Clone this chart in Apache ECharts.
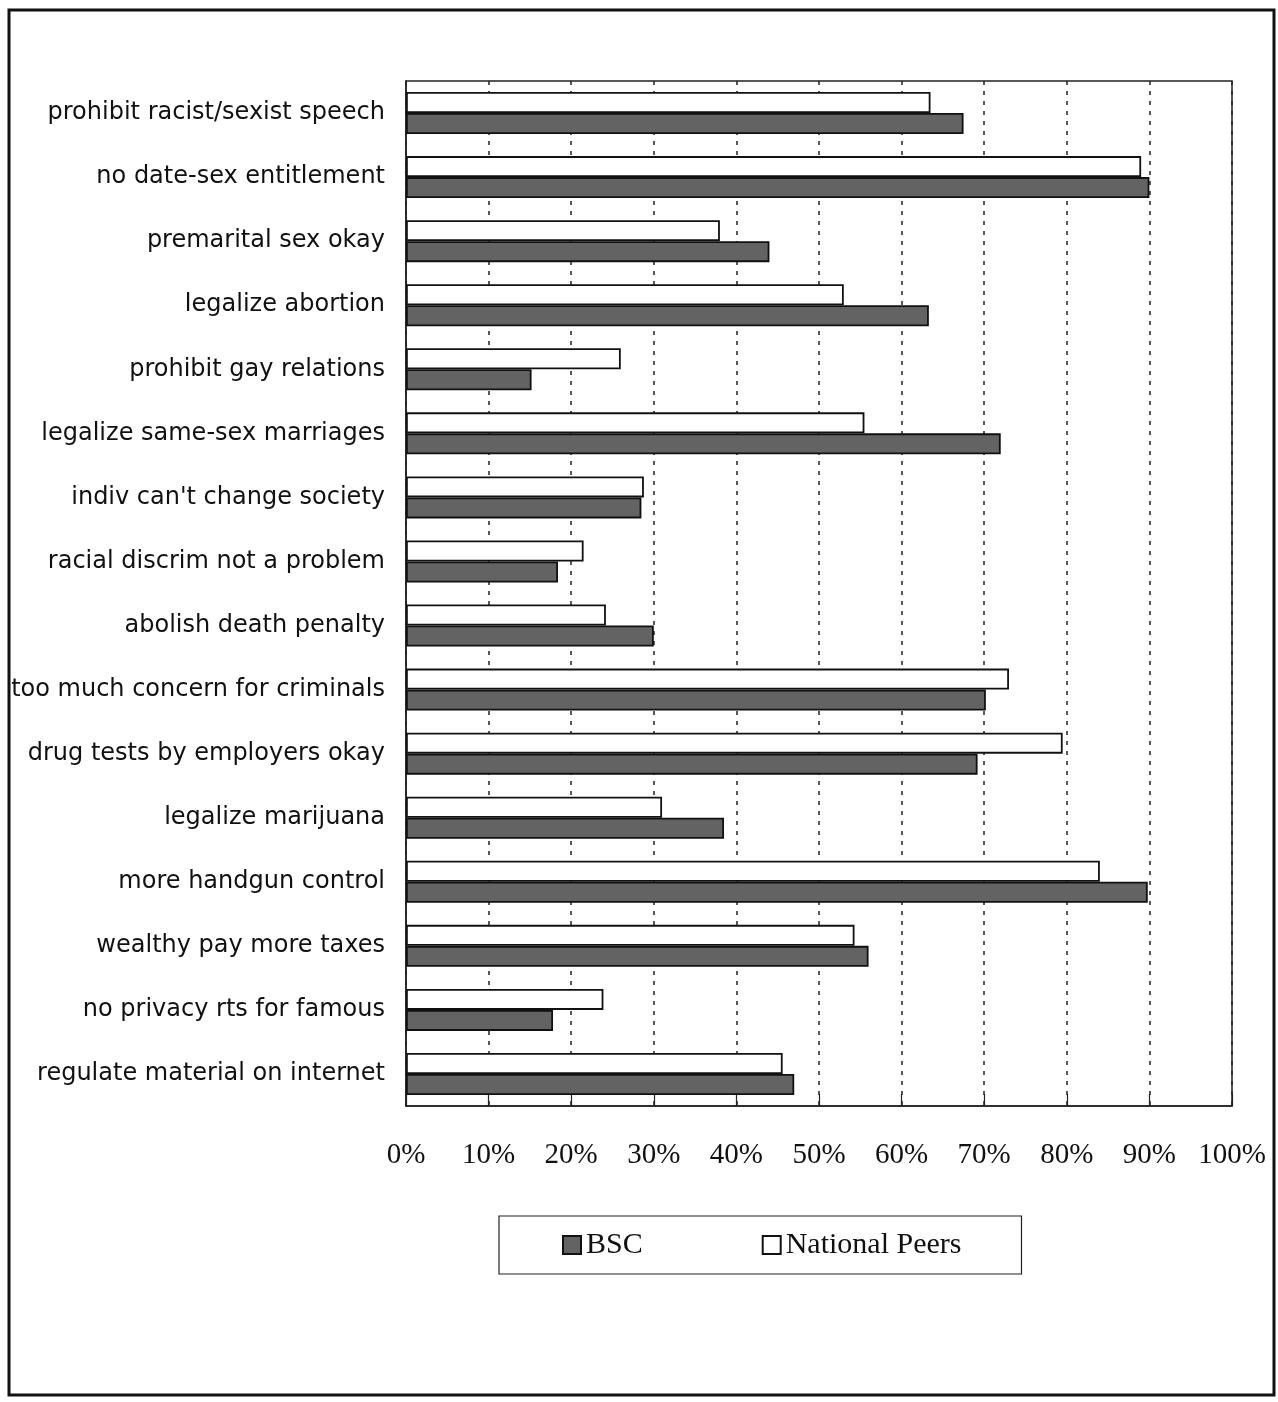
<!DOCTYPE html>
<html>
<head>
<meta charset="utf-8">
<script src="https://cdn.jsdelivr.net/npm/echarts@6/dist/echarts.min.js"></script>
<style>
  html, body { margin: 0; padding: 0; background: #fff; }
  #chart { width: 1278px; height: 1402px; }
</style>
</head>
<body>
<div id="chart"></div>
<script>
// Survey items, listed top to bottom
const categories = [
  'prohibit racist/sexist speech',
  'no date-sex entitlement',
  'premarital sex okay',
  'legalize abortion',
  'prohibit gay relations',
  'legalize same-sex marriages',
  "indiv can't change society",
  'racial discrim not a problem',
  'abolish death penalty',
  'too much concern for criminals',
  'drug tests by employers okay',
  'legalize marijuana',
  'more handgun control',
  'wealthy pay more taxes',
  'no privacy rts for famous',
  'regulate material on internet'
];

// Percent agreeing, per group
const nationalPeers = [63.5, 89, 38, 53, 26, 55.5, 28.8, 21.5, 24.2, 73, 79.5, 31, 84, 54.3, 23.9, 45.6];
const bsc = [67.5, 90, 44, 63.3, 15.2, 72, 28.5, 18.4, 30, 70.2, 69.2, 38.5, 89.8, 56, 17.8, 47];

const xTicks = [0, 10, 20, 30, 40, 50, 60, 70, 80, 90, 100];

const chart = echarts.init(document.getElementById('chart'), null, { renderer: 'canvas' });

chart.setOption({
  backgroundColor: '#ffffff',
  animation: false,
  graphic: [{
    type: 'rect',
    shape: { x: 9, y: 10, width: 1265, height: 1385 },
    style: { fill: 'none', stroke: '#111', lineWidth: 3 },
    silent: true
  }],
  grid: {
    left: 406, top: 81, right: 46, bottom: 296,
    show: true, borderColor: '#222', borderWidth: 1.5,
    containLabel: false
  },
  legend: {
    left: 499, top: 1216,
    orient: 'horizontal',
    borderColor: '#222', borderWidth: 1.2,
    padding: [14, 60, 14, 63],
    itemGap: 119,
    itemWidth: 18, itemHeight: 18,
    icon: 'rect',
    textStyle: { fontFamily: 'Liberation Serif', fontSize: 30, color: '#111' },
    data: ['BSC', 'National Peers']
  },
  xAxis: {
    type: 'value',
    min: 0, max: 100, interval: 10,
    axisLine: { show: true, lineStyle: { color: '#222', width: 1.5 } },
    axisTick: { show: true, inside: true, length: 12, lineStyle: { color: '#222', width: 1.2 } },
    splitLine: { show: true, lineStyle: { color: '#222', width: 1.5, type: [4, 6] } },
    axisLabel: {
      margin: 35,
      fontFamily: 'Liberation Serif', fontSize: 29, color: '#111',
      formatter: v => (xTicks.indexOf(v) >= 0 ? v + '%' : '')
    }
  },
  yAxis: {
    type: 'category',
    data: categories,
    inverse: true,
    axisLine: { show: true, lineStyle: { color: '#222', width: 1.5 } },
    axisTick: { show: false },
    axisLabel: {
      margin: 21,
      padding: [8, 0, 0, 0],
      fontFamily: 'DejaVu Sans', fontSize: 24, color: '#111'
    }
  },
  series: [
    {
      name: 'National Peers',
      type: 'bar',
      data: nationalPeers,
      barWidth: 21,
      barGap: '0%',
      itemStyle: { color: '#ffffff', borderColor: '#111', borderWidth: 1.8 }
    },
    {
      name: 'BSC',
      type: 'bar',
      data: bsc,
      barWidth: 21,
      barGap: '0%',
      itemStyle: { color: '#636363', borderColor: '#111', borderWidth: 1.8 }
    }
  ]
});
</script>
</body>
</html>
